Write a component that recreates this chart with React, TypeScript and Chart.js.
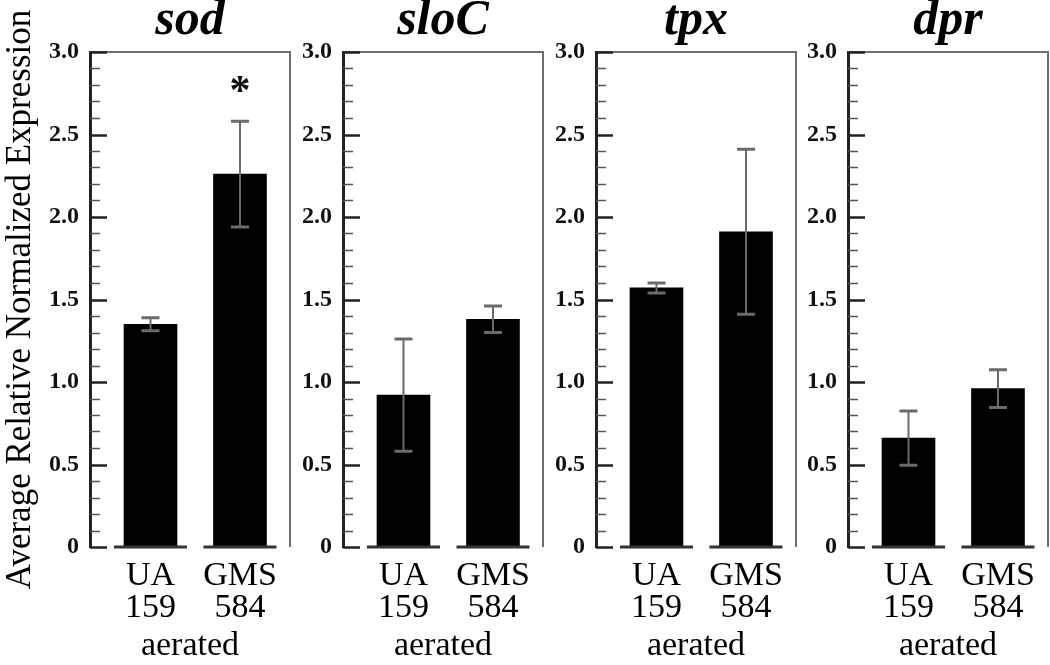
import React, { useEffect, useRef } from "react";
import { Chart, registerables } from "chart.js";

Chart.register(...registerables);

// ---------- data ----------
const genes = ["sod", "sloC", "tpx", "dpr"];
const strainLabels = [["UA", "159"], ["GMS", "584"]];
const strainPositions = [1, 2];
const conditionLabel = "aerated";
const yAxisTitle = "Average Relative Normalized Expression";

const sodMeans = [1.35, 2.26];
const sodErrors = [0.04, 0.32];
const sodMarks = ["", "*"];

const sloCMeans = [0.92, 1.38];
const sloCErrors = [0.34, 0.08];

const tpxMeans = [1.57, 1.91];
const tpxErrors = [0.03, 0.5];

const dprMeans = [0.66, 0.96];
const dprErrors = [0.165, 0.115];

const noMarks = ["", ""];

const yMin = 0;
const yMax = 3;
const yMajorStep = 0.5;
const yMinorStep = 0.1;

const panelMeans = [sodMeans, sloCMeans, tpxMeans, dprMeans];
const panelErrors = [sodErrors, sloCErrors, tpxErrors, dprErrors];
const panelMarks = [sodMarks, noMarks, noMarks, noMarks];

// ---------- layout / style ----------
const FONT = "'Liberation Serif', 'Times New Roman', serif";
const W = 1050;
const H = 665;
const plotLefts = [90, 343, 596, 848];
const plotWidth = 200;
const rightPad = 4;
const firstAxisWidth = 90;
const otherAxisWidth = 60;
const plotTop = 52;
const plotBottom = 547;

const framePlugin = {
  id: "frame",
  beforeDatasetsDraw(chart: any) {
    const { ctx, chartArea: a, scales } = chart;
    const y = scales.y;
    ctx.save();
    ctx.strokeStyle = "#6e6e6e";
    ctx.lineWidth = 2;
    ctx.beginPath();
    ctx.moveTo(a.left, a.top);
    ctx.lineTo(a.right, a.top);
    ctx.lineTo(a.right, a.bottom);
    ctx.stroke();
    const n = Math.round((yMax - yMin) / yMinorStep);
    for (let i = 0; i <= n; i++) {
      const v = yMin + i * yMinorStep;
      const r = v / yMajorStep;
      const major = Math.abs(r - Math.round(r)) < 1e-6;
      const py = Math.round(y.getPixelForValue(v)) + 0.5;
      ctx.lineWidth = major ? 2.5 : 1.5;
      ctx.strokeStyle = major ? "#222" : "#555";
      ctx.beginPath();
      ctx.moveTo(a.left, py);
      ctx.lineTo(a.left + (major ? 17 : 10), py);
      ctx.stroke();
    }
    ctx.restore();
  },
  afterDatasetsDraw(chart: any) {
    const { ctx, scales } = chart;
    const y = scales.y;
    const meta = chart.getDatasetMeta(0);
    const errs: number[] = chart.options.plugins.errorBars.errors;
    const marks: string[] = chart.options.plugins.errorBars.marks;
    const means: number[] = chart.data.datasets[0].data.map((d: any) => d.y);
    ctx.save();
    const base = y.getPixelForValue(0);
    meta.data.forEach((bar: any, i: number) => {
      const { x, width } = bar.getProps(["x", "width"], true);
      ctx.strokeStyle = "#333";
      ctx.lineWidth = 3;
      ctx.beginPath();
      ctx.moveTo(x - width / 2 - 10, base);
      ctx.lineTo(x + width / 2 + 10, base);
      ctx.stroke();
      const hi = y.getPixelForValue(means[i] + errs[i]);
      const lo = y.getPixelForValue(means[i] - errs[i]);
      ctx.strokeStyle = "#6a6a6a";
      ctx.lineWidth = 2;
      ctx.beginPath();
      ctx.moveTo(x, hi);
      ctx.lineTo(x, lo);
      ctx.stroke();
      ctx.lineWidth = 3;
      ctx.beginPath();
      ctx.moveTo(x - 9, hi);
      ctx.lineTo(x + 9, hi);
      ctx.moveTo(x - 9, lo);
      ctx.lineTo(x + 9, lo);
      ctx.stroke();
      if (marks[i]) {
        ctx.fillStyle = "#111";
        ctx.font = `bold 42px ${FONT}`;
        ctx.textAlign = "center";
        ctx.textBaseline = "alphabetic";
        ctx.fillText(marks[i], x, hi - 17);
      }
    });
    ctx.restore();
  },
};

function Panel({ index }: { index: number }) {
  const ref = useRef<HTMLCanvasElement | null>(null);
  const isFirst = index === 0;
  const axisW = isFirst ? firstAxisWidth : otherAxisWidth;
  const canvasLeft = plotLefts[index] - axisW;
  const canvasWidth = axisW + plotWidth + rightPad;

  useEffect(() => {
    if (!ref.current) return;
    const means = panelMeans[index];
    const chart = new Chart(ref.current, {
      type: "bar",
      data: {
        datasets: [
          {
            data: strainPositions.map((x, i) => ({ x, y: means[i] })),
            backgroundColor: "#000",
            borderWidth: 0,
            barThickness: 53,
          },
        ],
      },
      plugins: [framePlugin],
      options: {
        animation: false,
        responsive: false,
        devicePixelRatio: 1,
        layout: { padding: { left: 0, right: rightPad, top: 0, bottom: 0 } },
        plugins: {
          legend: { display: false },
          tooltip: { enabled: false },
          title: {
            display: true,
            fullSize: false,
            text: genes[index],
            color: "#000",
            font: { family: FONT, size: 50, style: "italic", weight: "bold", lineHeight: 0.72 },
            padding: { top: 3, bottom: plotTop - 36 - 3 },
          },
          // @ts-ignore
          errorBars: { errors: panelErrors[index], marks: panelMarks[index] },
        },
        scales: {
          x: {
            type: "linear",
            min: 0.324,
            max: 2.559,
            offset: false,
            grid: { display: false, drawTicks: false },
            border: { display: false },
            afterBuildTicks: (scale: any) => {
              scale.ticks = strainPositions.map((v) => ({ value: v }));
            },
            afterFit: (scale: any) => {
              scale.height = H - plotBottom;
            },
            ticks: {
              autoSkip: false,
              maxRotation: 0,
              padding: 13,
              color: "#000",
              font: { family: FONT, size: 34, lineHeight: 0.95 },
              callback: (_v: any, i: number) => strainLabels[i],
            },
            title: {
              display: true,
              text: conditionLabel,
              color: "#000",
              font: { family: FONT, size: 34, lineHeight: 1 },
              padding: { top: 0, bottom: 2 },
            },
          },
          y: {
            min: yMin,
            max: yMax,
            grid: { display: false, drawTicks: false },
            border: { display: true, color: "#222", width: 3 },
            afterFit: (scale: any) => {
              scale.width = axisW;
            },
            ticks: {
              stepSize: yMajorStep,
              padding: 11,
              color: "#111",
              font: { family: FONT, size: 24, weight: "bold" },
              callback: (v: any) => (Number(v) === 0 ? "0" : Number(v).toFixed(1)),
            },
            title: {
              display: isFirst,
              text: yAxisTitle,
              color: "#000",
              font: { family: FONT, size: 35, lineHeight: 1 },
              padding: { top: 3, bottom: 0 },
            },
          },
        },
      } as any,
    });
    return () => chart.destroy();
  }, [index]);

  return (
    <canvas
      ref={ref}
      width={canvasWidth}
      height={H}
      style={{ position: "absolute", left: canvasLeft, top: 0, width: canvasWidth, height: H }}
    />
  );
}

export default function App() {
  return (
    <div
      style={{
        position: "absolute",
        left: 0,
        top: 0,
        width: W,
        height: H,
        background: "#fff",
        overflow: "hidden",
      }}
    >
      {genes.map((g, i) => (
        <Panel key={g} index={i} />
      ))}
    </div>
  );
}
